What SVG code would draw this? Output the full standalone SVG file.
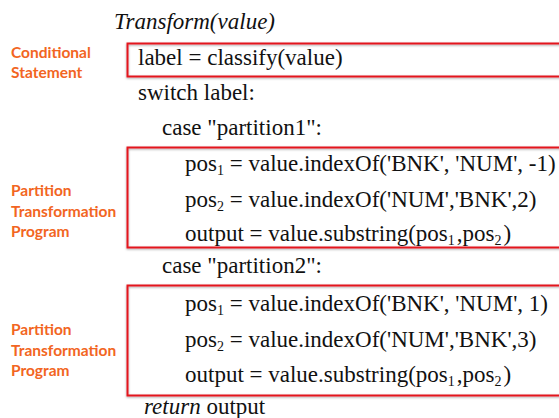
<svg xmlns="http://www.w3.org/2000/svg" width="559" height="418" viewBox="0 0 559 418">
<defs>
<filter id="sh" x="-5%" y="-20%" width="110%" height="140%">
<feDropShadow dx="0" dy="1" stdDeviation="0.8" flood-color="#000" flood-opacity="0.35"/>
</filter>
</defs>
<style>
.code{font-family:"Liberation Serif","Times New Roman",serif;font-size:23px;fill:#111;}
.it{font-style:italic;}
.lbl{font-family:Lato,"Open Sans",sans-serif;font-weight:bold;font-size:15.5px;fill:#F26522;}
.box{fill:none;stroke:#E3191E;stroke-width:2;filter:url(#sh);}
.sub{font-size:14px;}
</style>
<rect width="559" height="418" fill="#fff"/>
<g id="boxes">
<rect id="cond-box" class="box" x="127.5" y="43.5" width="440" height="33"/>
<rect id="part1-box" class="box" x="127.5" y="147.5" width="440" height="100"/>
<rect id="part2-box" class="box" x="127.5" y="285.5" width="440" height="110"/>
</g>
<g id="labels">
<text class="lbl" x="11" y="58">Conditional</text>
<text class="lbl" x="11" y="78">Statement</text>
<text class="lbl" x="11" y="196">Partition</text>
<text class="lbl" x="11" y="217">Transformation</text>
<text class="lbl" x="11" y="237">Program</text>
<text class="lbl" x="11" y="335">Partition</text>
<text class="lbl" x="11" y="356">Transformation</text>
<text class="lbl" x="11" y="376">Program</text>
</g>
<g id="code">
<text class="code it" x="114" y="29">Transform(value)</text>
<text class="code" x="138" y="65">label = classify(value)</text>
<text class="code" x="138" y="100">switch label:</text>
<text class="code" x="162" y="135">case "partition1":</text>
<text class="code" x="185" y="171">pos<tspan class="sub" dy="4">1</tspan><tspan dy="-4"> = value.indexOf('BNK', 'NUM', -1)</tspan></text>
<text class="code" x="185" y="207">pos<tspan class="sub" dy="4">2</tspan><tspan dy="-4"> = value.indexOf('NUM','BNK',2)</tspan></text>
<text class="code" x="185" y="241">output = value.substring(pos<tspan class="sub" dy="4">1</tspan><tspan dy="-4" dx="2">,pos</tspan><tspan class="sub" dy="4">2</tspan><tspan dy="-4" dx="2">)</tspan></text>
<text class="code" x="162" y="273">case "partition2":</text>
<text class="code" x="185" y="311">pos<tspan class="sub" dy="4">1</tspan><tspan dy="-4"> = value.indexOf('BNK', 'NUM', 1)</tspan></text>
<text class="code" x="185" y="347">pos<tspan class="sub" dy="4">2</tspan><tspan dy="-4"> = value.indexOf('NUM','BNK',3)</tspan></text>
<text class="code" x="185" y="382">output = value.substring(pos<tspan class="sub" dy="4">1</tspan><tspan dy="-4" dx="2">,pos</tspan><tspan class="sub" dy="4">2</tspan><tspan dy="-4" dx="2">)</tspan></text>
<text class="code" x="144" y="414"><tspan class="it">return</tspan> output</text>
</g>
</svg>
